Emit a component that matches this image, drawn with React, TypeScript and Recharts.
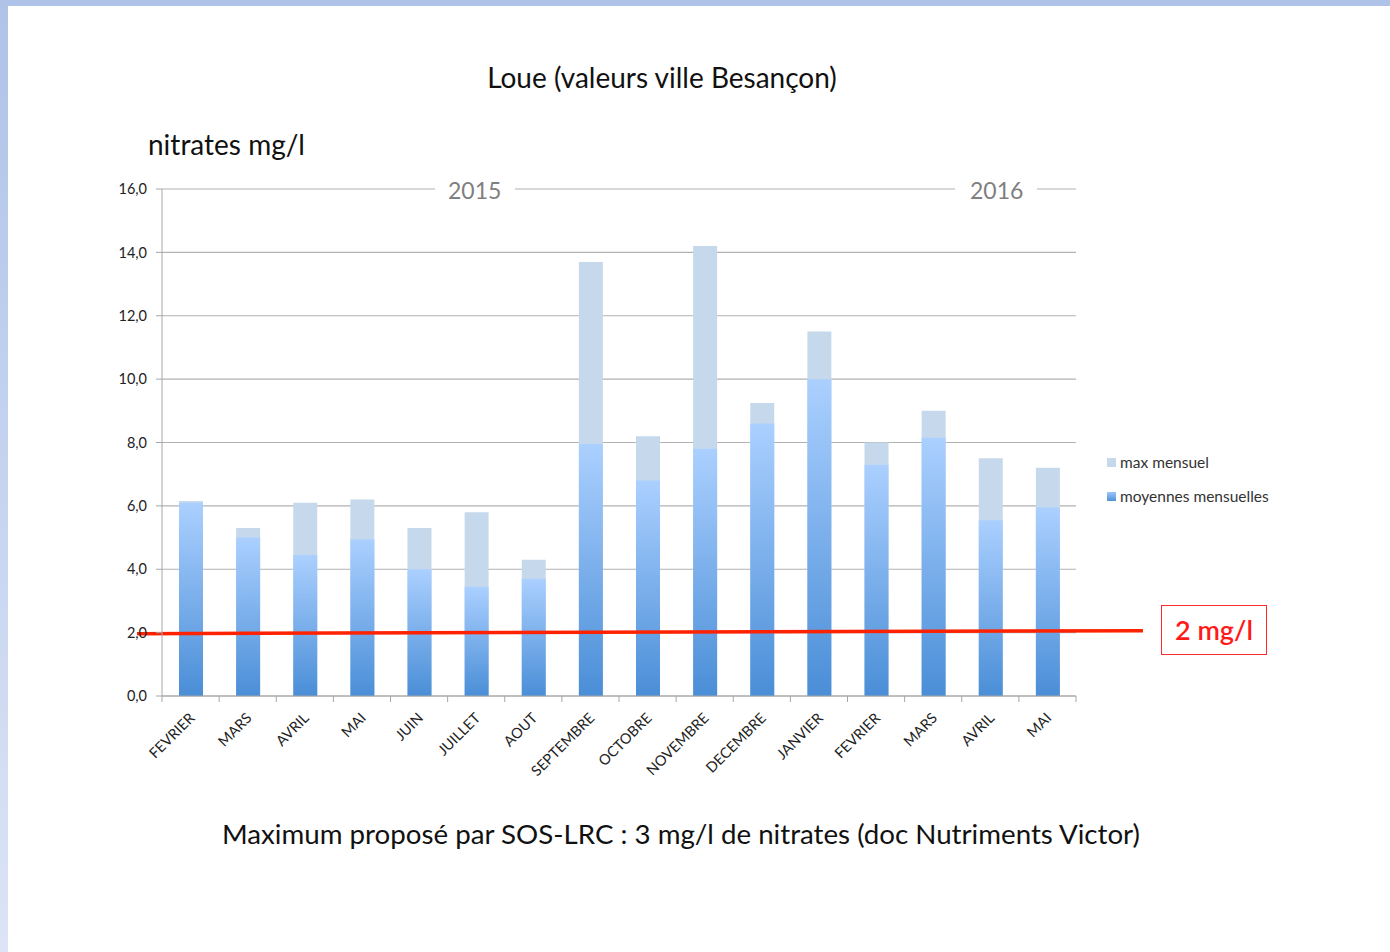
import React from 'react';
import { BarChart, Bar, XAxis, YAxis, CartesianGrid, ReferenceLine } from 'recharts';

const categories = ['FEVRIER', 'MARS', 'AVRIL', 'MAI', 'JUIN', 'JUILLET', 'AOUT', 'SEPTEMBRE', 'OCTOBRE', 'NOVEMBRE', 'DECEMBRE', 'JANVIER', 'FEVRIER', 'MARS', 'AVRIL', 'MAI'];
const maxMensuel = [6.15, 5.3, 6.1, 6.2, 5.3, 5.8, 4.3, 13.7, 8.2, 14.2, 9.25, 11.5, 8.0, 9.0, 7.5, 7.2];
const moyennesMensuelles = [6.1, 5.0, 4.45, 4.95, 4.0, 3.45, 3.7, 7.95, 6.8, 7.8, 8.6, 10.0, 7.3, 8.15, 5.55, 5.95];
const yTicks = [0, 2, 4, 6, 8, 10, 12, 14, 16];
const seuil = 2;
const years = ['2015', '2016'];
const seriesNames = ['max mensuel', 'moyennes mensuelles'];

const data = categories.map((m, i) => ({ month: m, max: maxMensuel[i], moy: moyennesMensuelles[i] }));

const FONT = 'Lato, "Open Sans", sans-serif';

const XTick = (props: any) => {
  const { x, y, payload, index, visibleTicksCount } = props;
  const off = payload && typeof payload.offset === 'number' && payload.offset > 0 ? payload.offset : 28.5;
  const last = index === (visibleTicksCount ?? 16) - 1;
  return (
    <g>
      <line x1={x - off} y1={y - 8} x2={x - off} y2={y - 2} stroke="#a6a6a6" strokeWidth={1} />
      {last && <line x1={x + off} y1={y - 8} x2={x + off} y2={y - 2} stroke="#a6a6a6" strokeWidth={1} />}
      <text x={x + 5} y={y + 15} textAnchor="end" transform={`rotate(-45 ${x + 5} ${y + 15})`} fontSize={14.5} fill="#222" fontFamily={FONT}>
        {payload.value}
      </text>
    </g>
  );
};

export default function App() {
  return (
    <div style={{ position: 'absolute', left: 0, top: 0, width: 1390, height: 952, background: '#fff', overflow: 'hidden', fontFamily: FONT }}>
      <div style={{ position: 'absolute', left: 0, top: 0, width: 1390, height: 6, background: '#afc3e8' }} />
      <div style={{ position: 'absolute', left: 0, top: 0, width: 8, height: 952, background: 'linear-gradient(#afc3e8, #dce4f6)' }} />

      <div style={{ position: 'absolute', left: 0, width: 1324, top: 59, textAlign: 'center', fontSize: 28, color: '#111', lineHeight: '36px' }}>
        Loue (valeurs ville Besançon)
      </div>
      <div style={{ position: 'absolute', left: 148, top: 126, fontSize: 28, color: '#111', lineHeight: '36px' }}>
        nitrates mg/l
      </div>

      <BarChart
        width={1390}
        height={952}
        data={data}
        margin={{ top: 189, right: 314, bottom: 176, left: 102 }}
        barSize={24}
        barGap={-24}
        style={{ position: 'absolute', left: 0, top: 0 }}
      >
        <defs>
          <linearGradient id="moyGrad" x1="0" y1="0" x2="0" y2="1">
            <stop offset="0%" stopColor="#abd0ff" />
            <stop offset="100%" stopColor="#4a8ed7" />
          </linearGradient>
        </defs>
        <CartesianGrid vertical={false} stroke="#b2b2b2" strokeWidth={1.2} />
        <XAxis
          dataKey="month"
          height={80}
          interval={0}
          tickLine={false}
          tickSize={6}
          tickMargin={2}
          axisLine={{ stroke: '#a6a6a6' }}
          tick={<XTick />}
        />
        <YAxis
          width={60}
          domain={[0, 16]}
          ticks={yTicks}
          interval={0}
          tickSize={6}
          tickMargin={9}
          axisLine={{ stroke: '#a6a6a6' }}
          tickLine={{ stroke: '#a6a6a6' }}
          tick={{ fontSize: 14.5, fill: '#222', fontFamily: FONT }}
          tickFormatter={(v: number) => v.toFixed(1).replace('.', ',')}
        />
        <Bar dataKey="max" name={seriesNames[0]} fill="#c6d9ec" isAnimationActive={false} />
        <Bar dataKey="moy" name={seriesNames[1]} fill="url(#moyGrad)" isAnimationActive={false} />
        <ReferenceLine
          y={seuil}
          ifOverflow="visible"
          shape={(p: any) => (
            <line x1={p.x1 - 25} y1={p.y1 + 1} x2={p.x2 + 67} y2={p.y2 - 2} stroke="#ff2200" strokeWidth={3.5} />
          )}
        />
      </BarChart>

      <div style={{ position: 'absolute', left: 1107, top: 452, fontFamily: FONT, fontSize: 15.5, color: '#333' }}>
        <div style={{ display: 'flex', alignItems: 'center', height: 20, marginBottom: 14 }}>
          <span style={{ width: 9, height: 9, background: '#c6d9ec', marginRight: 4, display: 'inline-block' }} />
          {seriesNames[0]}
        </div>
        <div style={{ display: 'flex', alignItems: 'center', height: 20 }}>
          <span style={{ width: 9, height: 9, background: 'linear-gradient(#9cc6fb, #4f92da)', marginRight: 4, display: 'inline-block' }} />
          {seriesNames[1]}
        </div>
      </div>

      <div style={{ position: 'absolute', left: 435, top: 175, padding: '0 14px 0 13px', background: '#fff', fontSize: 23, color: '#7f7f7f', lineHeight: '30px' }}>
        {years[0]}
      </div>
      <div style={{ position: 'absolute', left: 955, top: 175, padding: '0 14px 0 15px', background: '#fff', fontSize: 23, color: '#7f7f7f', lineHeight: '30px' }}>
        {years[1]}
      </div>

      <div style={{ position: 'absolute', left: 1161, top: 605, width: 104, height: 48, border: '1px solid #ff2a2a', color: '#ff1a1a', fontSize: 27, fontWeight: 600, textAlign: 'center', lineHeight: '48px' }}>
        2 mg/l
      </div>

      <div style={{ position: 'absolute', left: 0, width: 1362, top: 816, textAlign: 'center', fontSize: 27.7, color: '#111', lineHeight: '36px' }}>
        Maximum proposé par SOS-LRC : 3 mg/l de nitrates (doc Nutriments Victor)
      </div>
    </div>
  );
}
